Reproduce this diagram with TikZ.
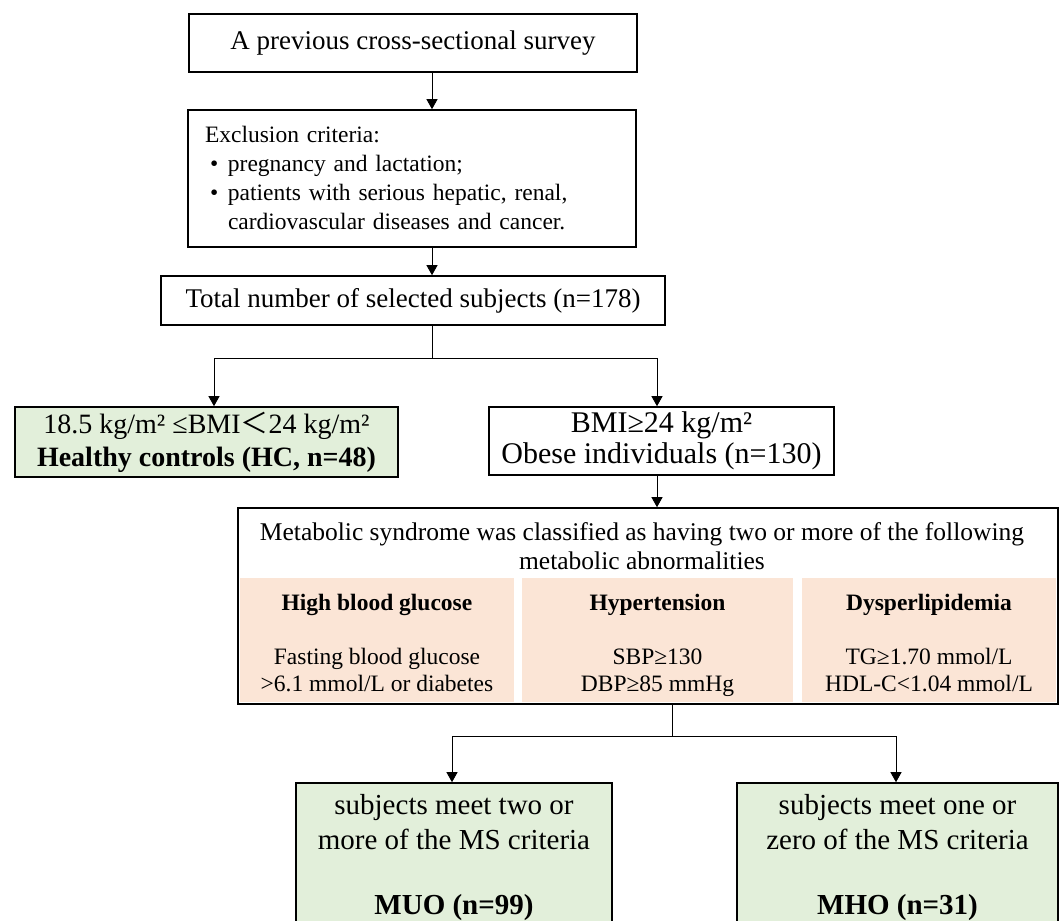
\documentclass[tikz,border=0pt]{standalone}
\usepackage{fontspec}
\setmainfont{Liberation Serif}
\newfontfamily\cjk{Noto Sans CJK SC}
\usetikzlibrary{arrows.meta}
\definecolor{hcgreen}{HTML}{E2EFDA}
\definecolor{peach}{HTML}{FBE5D6}

\begin{document}
\begin{tikzpicture}[x=1pt, y=-1pt,
    box/.style={draw, line width=1.6pt, inner sep=0pt, align=center},
    greenbox/.style={box, fill=hcgreen},
    cell/.style={fill=peach, inner sep=0pt, align=center, minimum height=124pt,
        font=\fontsize{23.5}{27}\selectfont},
    link/.style={line width=0.9pt},
    arr/.style={link, -{Triangle[length=10pt, width=11pt]}}]
    \useasboundingbox (0,0) rectangle (1061,921);

    \node[box, minimum width=448pt, minimum height=58pt, font=\fontsize{27}{32}\selectfont]
        (survey) at (413,43) {A previous cross-sectional survey};
    \node[box, inner xsep=17pt, text width=414pt, align=left, minimum height=137pt,
        font=\fontsize{23.5}{29}\selectfont] (excl) at (412,178.5)
        {Exclusion criteria:\\
         \makebox[23pt][l]{\hspace{5pt}\textbullet}pregnancy and lactation;\\
         \makebox[23pt][l]{\hspace{5pt}\textbullet}patients with serious hepatic, renal,\\
         \hspace*{23pt}cardiovascular diseases and cancer.};
    \node[box, minimum width=504pt, minimum height=49pt, font=\fontsize{27}{32}\selectfont]
        (total) at (413,300.5) {Total number of selected subjects (n=178)};

    \node[greenbox, minimum width=383pt, minimum height=70pt, font=\fontsize{28}{33}\selectfont]
        (hc) at (206.5,442) {18.5 kg/m² ≤BMI{\cjk ＜}24 kg/m²\\ \textbf{Healthy controls (HC, n=48)}};
    \node[box, minimum width=345pt, minimum height=68pt, font=\fontsize{30}{31}\selectfont]
        (obese) at (661.5,441) {BMI≥24 kg/m²\\ Obese individuals (n=130)};

    % MS criteria
    \node[box, minimum width=820pt, minimum height=196pt] (ms) at (648,606) {};
    \node[align=center, inner sep=0pt, font=\fontsize{25.5}{29}\selectfont] (mstitle) at (642,546)
        {Metabolic syndrome was classified as having two or more of the following\\ metabolic abnormalities};
    \node[cell, minimum width=274pt] (glucose) at (377,640)
        {\rule{0pt}{31pt}\textbf{High blood glucose}\\[27pt] Fasting blood glucose\\ >6.1 mmol/L or diabetes\strut};
    \node[cell, minimum width=271pt] (pressure) at (657.5,640)
        {\rule{0pt}{31pt}\textbf{Hypertension}\\[27pt] SBP≥130\\ DBP≥85 mmHg\strut};
    \node[cell, minimum width=254pt] (lipid) at (929,640)
        {\rule{0pt}{31pt}\textbf{Dysperlipidemia}\\[27pt] TG≥1.70 mmol/L\\ HDL-C<1.04 mmol/L\strut};

    \node[greenbox, minimum width=316pt, minimum height=149pt, font=\fontsize{29}{35}\selectfont]
        (muo) at (454,857.5) {subjects meet two or\\ more of the MS criteria\\[30pt] \textbf{MUO (n=99)}};
    \node[greenbox, minimum width=321pt, minimum height=149pt, font=\fontsize{29}{35}\selectfont]
        (mho) at (897.5,857.5) {subjects meet one or\\ zero of the MS criteria\\[30pt] \textbf{MHO (n=31)}};

    \coordinate (trunk) at (432,0);
    \coordinate (splitA) at (432,358);
    \coordinate (leftA) at (214,358);
    \coordinate (rightA) at (657,358);
    \coordinate (splitB) at (672,736);
    \coordinate (leftB) at (452,736);
    \coordinate (rightB) at (896,736);

    \draw[arr] (survey.south -| trunk) -- (excl.north -| trunk);
    \draw[arr] (excl.south -| trunk) -- (total.north -| trunk);
    \draw[link] (total.south -| splitA) -- (splitA);
    \draw[link] (leftA) -- (rightA);
    \draw[arr] (leftA) -- (leftA |- hc.north);
    \draw[arr] (rightA) -- (rightA |- obese.north);
    \draw[arr] (obese.south -| rightA) -- (ms.north -| rightA);
    \draw[link] (ms.south -| splitB) -- (splitB);
    \draw[link] (leftB) -- (rightB);
    \draw[arr] (leftB) -- (leftB |- muo.north);
    \draw[arr] (rightB) -- (rightB |- mho.north);
\end{tikzpicture}
\end{document}
